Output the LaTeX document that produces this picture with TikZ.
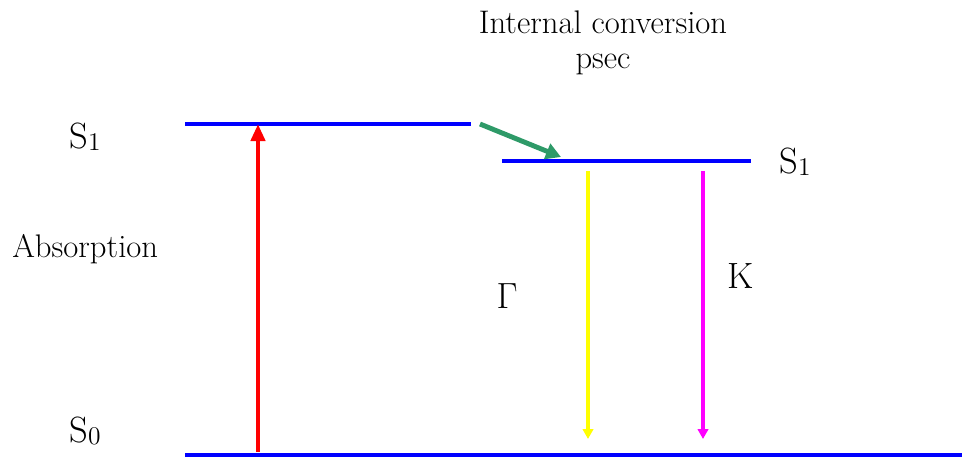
\documentclass[tikz,border=0pt]{standalone}
\usetikzlibrary{arrows.meta,positioning}
\definecolor{levelblue}{HTML}{0000FF}
\definecolor{icgreen}{HTML}{2E9A68}
\definecolor{fluoyellow}{HTML}{FFFF00}
\definecolor{quenchpink}{HTML}{FF00FF}
\tikzset{
  level/.style={draw=levelblue,line width=2.8pt},
  trans/.style={line width=#1,-{Triangle[width=6pt,length=6pt]}},
  lbl/.style={inner sep=0pt,anchor=base,font=\rmfamily\fontsize{20.8}{24}\selectfont},
  txt/.style={inner sep=0pt,anchor=base,font=\rmfamily\fontsize{18.6}{22}\selectfont}
}
\newcommand{\stsub}[1]{\raisebox{-0.15ex}{\fontsize{14.5}{16}\selectfont#1}}

\begin{document}
\begin{tikzpicture}[x=0.02cm,y=-0.02cm]
  \useasboundingbox (0,0) rectangle (964,457);
  % energy levels
  \coordinate (sa) at (185,124); \coordinate (sb) at (471,124);
  \coordinate (ra) at (502,161); \coordinate (rb) at (751,161);
  \coordinate (ga) at (185,455); \coordinate (gb) at (962,455);
  \draw[level] (sa) -- (sb);
  \draw[level] (ra) -- (rb);
  \draw[level] (ga) -- (gb);
  % transitions
  \coordinate (abs0) at (258,452); \coordinate (abs1) at (258,124);
  \coordinate (ic0) at (480,124); \coordinate (ic1) at (561,157);
  \coordinate (fl0) at (588,171); \coordinate (fl1) at (588,439);
  \coordinate (nr0) at (703,171); \coordinate (nr1) at (703,439);
  \draw[trans=2.8pt,red,-{Triangle[width=0.28cm,length=0.34cm]}] (abs0) -- (abs1);
  \draw[trans=2.8pt,icgreen,-{Triangle[width=0.32cm,length=0.3cm]}] (ic0) -- (ic1);
  \draw[trans=2pt,fluoyellow,-{Triangle[width=0.21cm,length=0.2cm]}] (fl0) -- (fl1);
  \draw[trans=2pt,quenchpink,-{Triangle[width=0.21cm,length=0.2cm]}] (nr0) -- (nr1);
  % labels
  \node[lbl,anchor=base west] (s1l) at (69,148) {S\stsub{1}};
  \node[lbl,anchor=base west] (s1r) at (779,173) {S\stsub{1}};
  \node[lbl,anchor=base west] (s0) at (69,442) {S\stsub{0}};
  \node[txt,anchor=base west] (absorb) at (12,257) {Absorption};
  \node[lbl] (gam) at (507,308) {$\Gamma$};
  \node[lbl] (kap) at (741,288) {K};
  \node[txt] (ictitle) at (603,33) {Internal conversion};
  \node[txt] (ictime) at (603,68) {psec};
\end{tikzpicture}
\end{document}
